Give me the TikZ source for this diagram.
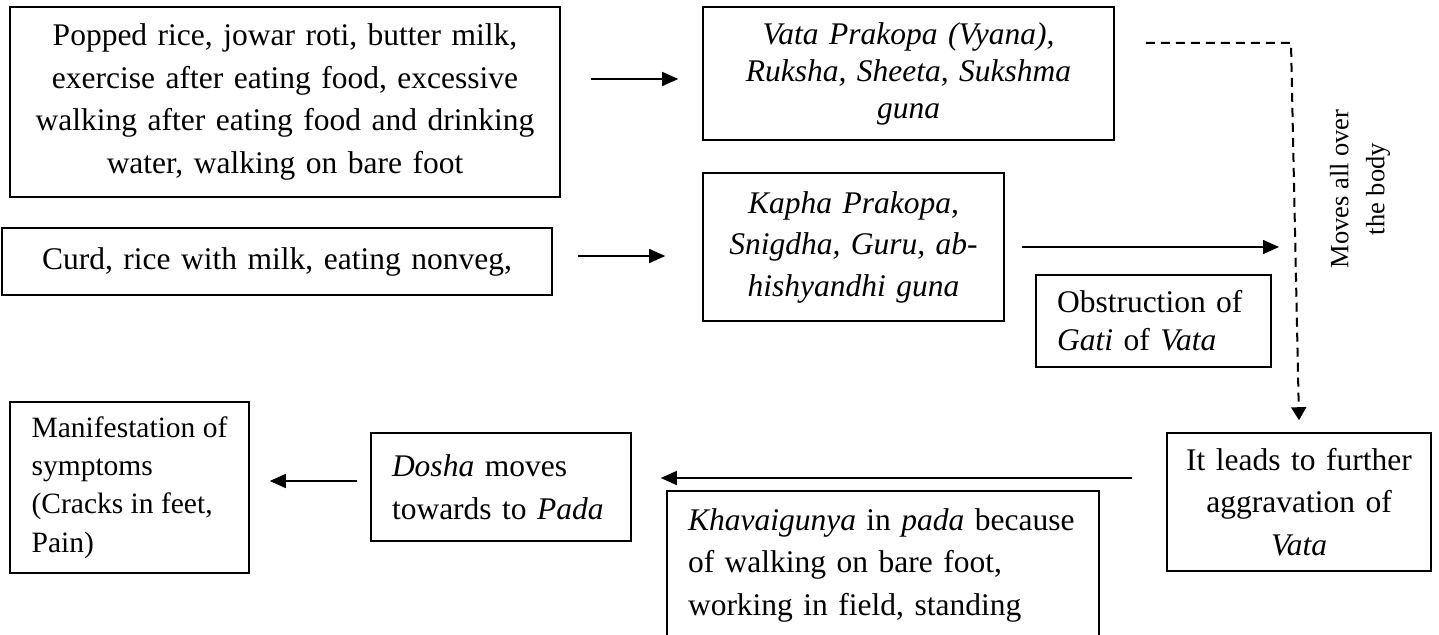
\documentclass[tikz,border=0pt]{standalone}
\usepackage{fontspec}
\setmainfont{Liberation Serif}
\usetikzlibrary{arrows.meta,calc}
\begin{document}
\begin{tikzpicture}[x=1pt,y=-1pt,
  box/.style={draw, line width=1.6pt, inner ysep=0pt, font=\fontsize{31.5}{42.5}\selectfont},
  cbox/.style={box, align=center, inner xsep=5pt},
  lbox/.style={box, align=left, inner xsep=21pt},
  arr/.style={-{Triangle[length=16pt,width=14pt]}, line width=1.5pt},
  dasharr/.style={-{Triangle[length=13pt,width=15pt]}, line width=2pt, dash pattern=on 9pt off 6pt},
]
\useasboundingbox (0,0) rectangle (1439,634);
\clip (0,0) rectangle (1439,634);

\node[cbox, text width=540pt, minimum height=190pt] (food) at (285,102)
  {Popped rice, jowar roti, butter milk,\\ exercise after eating food, excessive\\ walking after eating food and drinking\\ water, walking on bare foot};
\node[cbox, text width=540pt, minimum height=67pt] (curd) at (277,261.5)
  {Curd, rice with milk, eating nonveg,};
\node[cbox, text width=401pt, minimum height=133pt, font=\fontsize{31.5}{37}\selectfont\itshape] (vata) at (908.5,73.5)
  {Vata Prakopa (Vyana),\\ Ruksha, Sheeta, Sukshma\\ guna};
\node[cbox, text width=291pt, minimum height=148pt, font=\fontsize{31.5}{41.5}\selectfont\itshape] (kapha) at (853.5,247)
  {Kapha Prakopa,\\ Snigdha, Guru, ab-\\ hishyandhi guna};
\node[lbox, text width=193pt, minimum height=92pt, font=\fontsize{31.5}{38}\selectfont] (obst) at (1153.5,321)
  {Obstruction of\\ \textit{Gati} of \textit{Vata}};
\node[cbox, text width=254pt, minimum height=138pt] (leads) at (1299,502)
  {It leads to further\\ aggravation of\\ \textit{Vata}};
\node[lbox, text width=390pt, minimum height=148pt] (khava) at (883,565)
  {\textit{Khavaigunya} in \textit{pada} because\\ of walking on bare foot,\\ working in field, standing};
\node[lbox, text width=218pt, minimum height=108pt] (dosha) at (501,487)
  {\textit{Dosha} moves\\ towards to \textit{Pada}};
\node[box, align=left, inner xsep=0pt, minimum width=239pt, minimum height=171pt, font=\fontsize{29.5}{38.3}\selectfont] (manif) at (129.5,487.5)
  {Manifestation of\\ symptoms\\ (Cracks in feet,\\ Pain)};
\node[font=\fontsize{26.5}{36}\selectfont, rotate=90, align=center, inner sep=0pt] (moves) at (1360,189)
  {Moves all over\\ the body};

\coordinate (corner) at (1291,43);
\coordinate (kend) at (1279,247);

\draw[arr] ($(food.east|-0,79)+(30,0)$) -- ($(vata.west|-0,79)+(-24,0)$);
\draw[arr] ($(curd.east|-0,256)+(25,0)$) -- ($(kapha.west|-0,256)+(-37,0)$);
\draw[arr] ($(kapha.east)+(17,0)$) -- (kend);
\draw[dasharr] ($(vata.east|-0,43)+(31,0)$) -- (corner) -- ([yshift=12pt]leads.north);
\draw[arr] ($(leads.west|-0,478)+(-34,0)$) -- ($(dosha.east|-0,478)+(29,0)$);
\draw[arr] ($(dosha.west|-0,481)+(-13,0)$) -- ($(manif.east|-0,481)+(20,0)$);
\end{tikzpicture}
\end{document}
